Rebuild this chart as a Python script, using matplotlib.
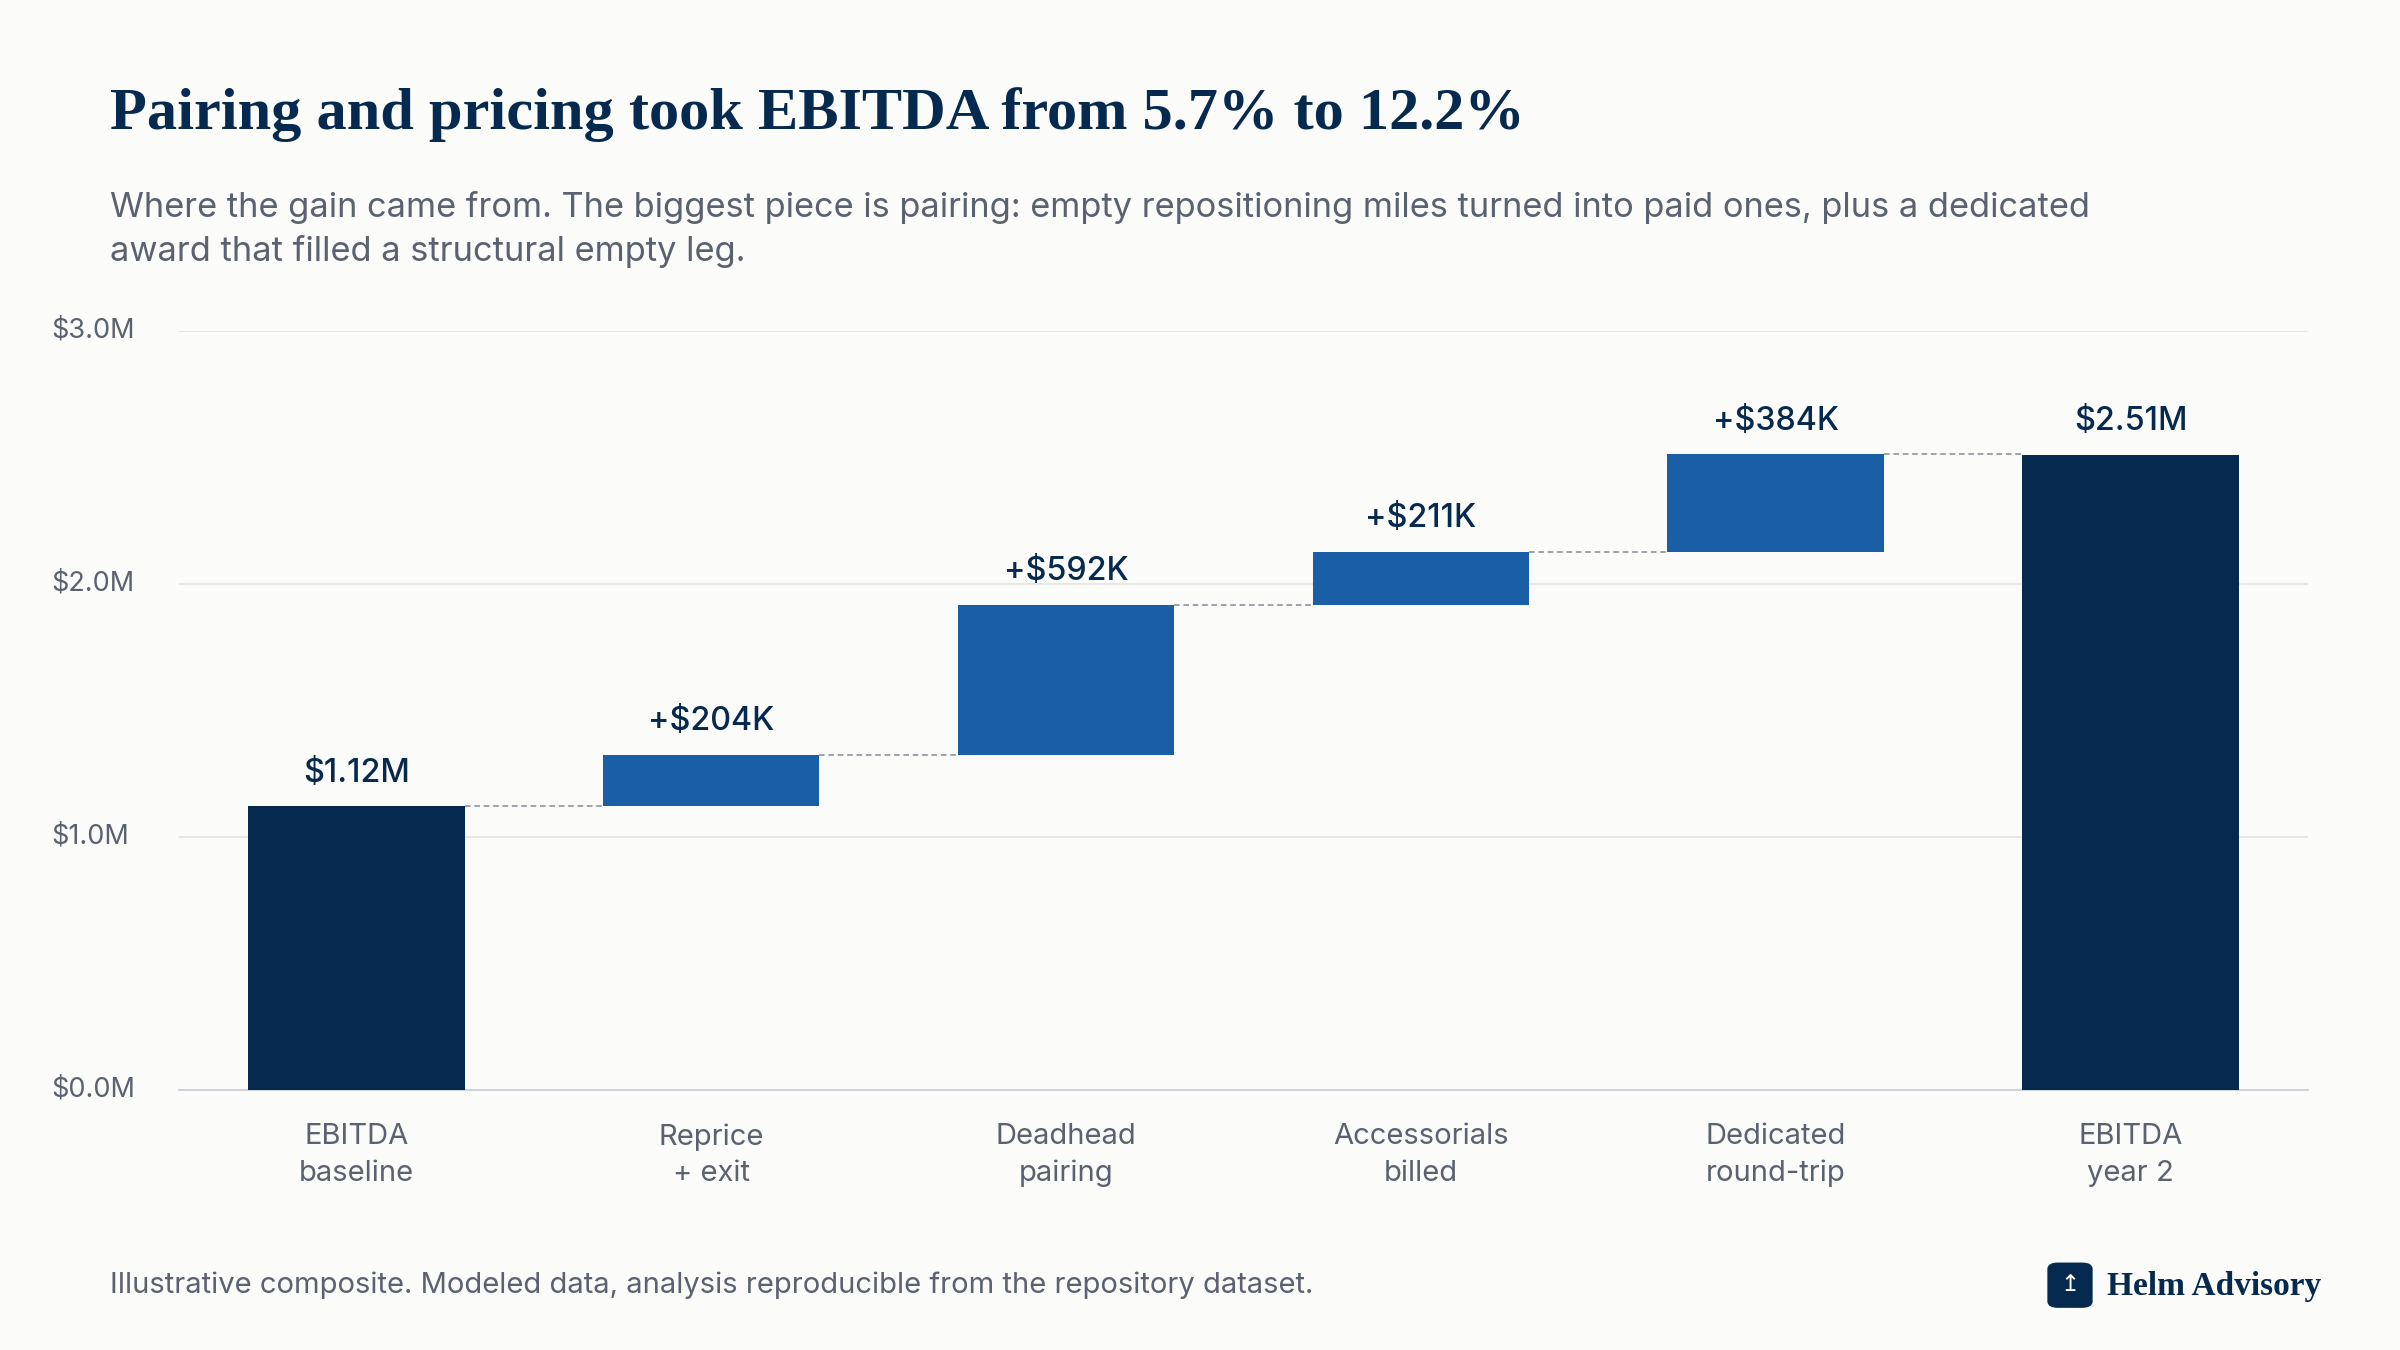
import matplotlib
matplotlib.use("Agg")
import matplotlib.pyplot as plt
from matplotlib.patches import FancyBboxPatch

categories = ["EBITDA\nbaseline", "Reprice\n+ exit", "Deadhead\npairing", "Accessorials\nbilled", "Dedicated\nround-trip", "EBITDA\nyear 2"]
values = [1.12, 0.204, 0.592, 0.211, 0.384, 2.51]
labels = ["$1.12M", "+$204K", "+$592K", "+$211K", "+$384K", "$2.51M"]
is_total = [True, False, False, False, False, True]
yticks = [0.0, 1.0, 2.0, 3.0]
ytick_labels = ["$0.0M", "$1.0M", "$2.0M", "$3.0M"]

BG = "#FBFBF9"; NAVY = "#062A4F"; BLUE = "#1A5FA6"; GREY = "#5A6270"
sans = ["Inter", "DejaVu Sans"]
serif = ["Liberation Serif", "DejaVu Serif"]

fig = plt.figure(figsize=(16, 9), dpi=150, facecolor=BG)
ax = fig.add_axes([0.0746, 0.1927, 0.887, 0.5623], facecolor=BG)

W = 0.61
cum = 0.0
bottoms, tops = [], []
for i, v in enumerate(values):
    if is_total[i]:
        b, t = 0.0, v
        cum = v
    else:
        b, t = cum, cum + v
        cum = t
    bottoms.append(b); tops.append(t)
    ax.bar(i, t - b, bottom=b, width=W, color=NAVY if is_total[i] else BLUE, zorder=3)
    ax.text(i, t + 0.07, labels[i], ha="center", va="bottom", fontsize=15.5, color=NAVY, family=sans, fontweight="medium")

for i in range(len(values) - 1):
    ax.plot([i + W/2, i + 1 - W/2], [tops[i], tops[i]], ls=(0, (3, 2)), color="#9AA0A8", lw=0.9, zorder=2)

ax.set_xlim(-0.5, 5.5); ax.set_ylim(0, 3.0)
ax.set_yticks(yticks)
ax.set_yticklabels([])
for y, s in zip(yticks, ytick_labels):
    ax.text(-0.06, y, s, transform=ax.get_yaxis_transform(), ha="left", va="center",
            family=sans, fontsize=13, color=GREY)
ax.set_xticks(range(len(categories)))
ax.set_xticklabels(categories, family=sans, fontsize=14, color=GREY, linespacing=1.45)
ax.tick_params(length=0)
ax.tick_params(axis="x", pad=16)
ax.grid(axis="y", color="#E6E6E3", lw=0.9, zorder=0)
for s in ["top", "right", "left"]:
    ax.spines[s].set_visible(False)
ax.spines["bottom"].set_color("#C8CCD6")

fig.text(0.046, 0.915, "Pairing and pricing took EBITDA from 5.7% to 12.2%", family=serif, fontweight="bold",
         fontsize=29, color=NAVY, va="center")
fig.text(0.046, 0.83, "Where the gain came from. The biggest piece is pairing: empty repositioning miles turned into paid ones, plus a dedicated\naward that filled a structural empty leg.",
         family=sans, fontsize=16.5, color=GREY, va="center", linespacing=1.4)
fig.text(0.046, 0.048, "Illustrative composite. Modeled data, analysis reproducible from the repository dataset.",
         family=sans, fontsize=14, color=GREY, va="center")

lx, ly, lw_, lh = 0.8535, 0.032, 0.018, 0.032
fig.patches.append(FancyBboxPatch((lx, ly), lw_, lh, boxstyle="round,pad=0,rounding_size=0.004",
                                  transform=fig.transFigure, color=NAVY))
fig.text(lx + lw_/2, ly + lh/2, "↥", ha="center", va="center", color="white", fontsize=11, family=sans)
fig.text(0.878, 0.047, "Helm Advisory", family=serif, fontweight="bold", fontsize=16, color=NAVY, va="center")

fig.savefig("out.png", dpi=150, facecolor=BG)
